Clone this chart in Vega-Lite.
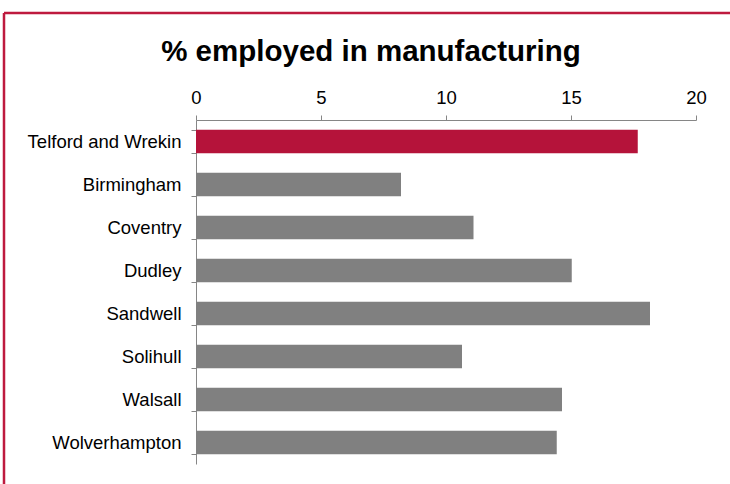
{
  "$schema": "https://vega.github.io/schema/vega-lite/v6.json",
  "autosize": {"type": "none"},
  "padding": {"left": 4, "top": 13, "right": 0, "bottom": 0},
  "width": 726,
  "height": 471,
  "background": "white",
  "title": {
    "text": "% employed in manufacturing",
    "font": "Liberation Sans",
    "fontSize": 29.5,
    "fontWeight": "bold",
    "color": "#000000",
    "anchor": "middle",
    "frame": "group",
    "baseline": "alphabetic",
    "offset": -86,
    "dx": 4
  },
  "config": {
    "view": {
      "stroke": "#BE1A3E",
      "strokeWidth": 2.5,
      "strokeDash": [726, 1197, 471, 0]
    }
  },
  "data": {
    "values": [
      {"area": "Telford and Wrekin", "pct": 17.67},
      {"area": "Birmingham", "pct": 8.2},
      {"area": "Coventry", "pct": 11.1},
      {"area": "Dudley", "pct": 15.03},
      {"area": "Sandwell", "pct": 18.16},
      {"area": "Solihull", "pct": 10.64},
      {"area": "Walsall", "pct": 14.64},
      {"area": "Wolverhampton", "pct": 14.43}
    ]
  },
  "mark": {"type": "bar"},
  "encoding": {
    "y": {
      "field": "area",
      "type": "nominal",
      "sort": null,
      "scale": {"range": [107, 451], "paddingInner": 0.45, "paddingOuter": 0.225},
      "axis": {
        "title": null,
        "orient": "left",
        "offset": -192,
        "tickBand": "extent",
        "domainColor": "#868686",
        "tickColor": "#868686",
        "tickSize": 5,
        "labelPadding": 10,
        "labelFont": "Liberation Sans",
        "labelFontSize": 18.5,
        "labelColor": "#000000",
        "grid": false
      }
    },
    "x": {
      "field": "pct",
      "type": "quantitative",
      "scale": {"domain": [0, 20], "range": [192, 692], "nice": false},
      "axis": {
        "title": null,
        "orient": "top",
        "offset": -107,
        "values": [0, 5, 10, 15, 20],
        "grid": false,
        "labelFlush": false,
        "domainColor": "#868686",
        "tickColor": "#868686",
        "tickSize": 5,
        "labelPadding": 8,
        "labelFont": "Liberation Sans",
        "labelFontSize": 18.5,
        "labelColor": "#000000"
      }
    },
    "color": {
      "condition": {"test": "datum.area === 'Telford and Wrekin'", "value": "#B5133A"},
      "value": "#808080"
    }
  }
}
